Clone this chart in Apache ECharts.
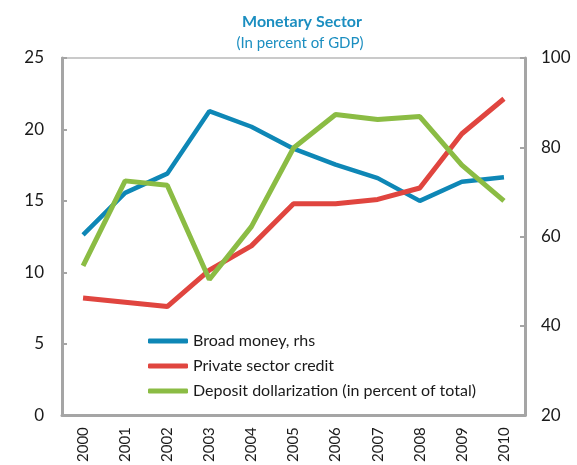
<!DOCTYPE html>
<html>
<head>
<meta charset="utf-8">
<script src="https://cdn.jsdelivr.net/npm/echarts@6/dist/echarts.min.js"></script>
<style>
  html, body { margin: 0; padding: 0; background: #fff; }
  #chart { width: 577px; height: 465px; }
</style>
</head>
<body>
<div id="chart"></div>
<script type="text/javascript">
    var years = ['2000', '2001', '2002', '2003', '2004', '2005', '2006', '2007', '2008', '2009', '2010'];
    // broad money, right axis
    var broadMoney = [60.4, 69.8, 74.1, 88.1, 84.6, 79.7, 76.1, 73.1, 68.0, 72.3, 73.3];
    var privateCredit = [8.2, 7.9, 7.6, 10.15, 11.85, 14.8, 14.8, 15.1, 15.9, 19.7, 22.15];
    var dollarization = [10.45, 16.4, 16.1, 9.5, 13.2, 18.7, 21.05, 20.7, 20.9, 17.5, 15.0];

    var font = 'Lato, "Open Sans", sans-serif';
    var axisGray = '#a5a5a5';

    var myChart = echarts.init(document.getElementById('chart'));
    var option = {
        backgroundColor: '#fff',
        animation: false,
        title: [{
            text: 'Monetary Sector',
            left: 297,
            top: 9,
            textAlign: 'center',
            textStyle: { color: '#1b8ec0', fontSize: 16, fontWeight: 'bold', fontFamily: font }
        }, {
            text: '(In percent of GDP)',
            left: 295,
            top: 31,
            textAlign: 'center',
            textStyle: { color: '#1b8ec0', fontSize: 15, fontWeight: 'normal', fontFamily: font }
        }],
        legend: {
            orient: 'vertical',
            left: 148,
            top: 333,
            padding: 0,
            itemWidth: 40,
            itemHeight: 5,
            itemGap: 9,
            icon: 'roundRect',
            textStyle: { color: '#1a1a1a', fontSize: 16, lineHeight: 16, fontFamily: font },
            data: ['Broad money, rhs', 'Private sector credit', 'Deposit dollarization (in percent of total)']
        },
        grid: {
            show: true,
            left: 62,
            right: 52,
            top: 58,
            bottom: 46,
            borderColor: '#cacaca',
            borderWidth: 2
        },
        xAxis: [{
            type: 'category',
            boundaryGap: true,
            data: years,
            axisLine: { lineStyle: { color: axisGray, width: 3 } },
            axisTick: { inside: true, length: 5, interval: 0, lineStyle: { color: axisGray, width: 2 } },
            axisLabel: { rotate: 90, interval: 0, margin: 12, fontSize: 15, color: '#1a1a1a', fontFamily: font },
            splitLine: { show: false }
        }],
        yAxis: [{
            type: 'value',
            min: 0,
            max: 25,
            interval: 5,
            axisLine: { show: true, lineStyle: { color: axisGray, width: 3 } },
            axisTick: { show: true, inside: true, length: 5, lineStyle: { color: axisGray, width: 2 } },
            axisLabel: { margin: 18, fontSize: 17, color: '#1a1a1a', fontFamily: font },
            splitLine: { show: false }
        }, {
            type: 'value',
            position: 'right',
            min: 20,
            max: 100,
            interval: 20,
            axisLine: { show: true, lineStyle: { color: axisGray, width: 3 } },
            axisTick: { show: true, inside: true, length: 5, lineStyle: { color: axisGray, width: 2 } },
            axisLabel: { margin: 16, fontSize: 17, color: '#1a1a1a', fontFamily: font },
            splitLine: { show: false }
        }],
        series: [{
            name: 'Broad money, rhs',
            type: 'line',
            yAxisIndex: 1,
            showSymbol: false,
            color: '#0e87b6',
            lineStyle: { width: 4.5, color: '#0e87b6' },
            data: broadMoney
        }, {
            name: 'Private sector credit',
            type: 'line',
            showSymbol: false,
            color: '#e0453f',
            lineStyle: { width: 5, color: '#e0453f' },
            data: privateCredit
        }, {
            name: 'Deposit dollarization (in percent of total)',
            type: 'line',
            showSymbol: false,
            color: '#8bbc44',
            lineStyle: { width: 5, color: '#8bbc44' },
            data: dollarization
        }]
    };
    myChart.setOption(option);
</script>
</body>
</html>
